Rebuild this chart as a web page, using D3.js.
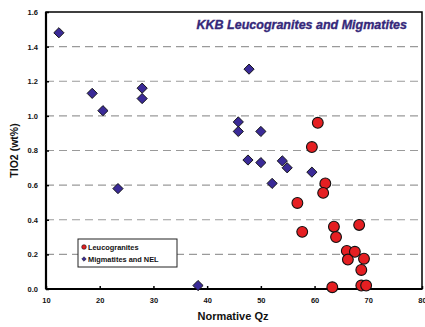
<!DOCTYPE html>
<html>
<head>
<meta charset="utf-8">
<script src="https://cdn.jsdelivr.net/npm/d3@7"></script>
<style>
  html, body { margin: 0; padding: 0; background: #fff; }
  svg { display: block; font-family: "Liberation Sans", Arial, sans-serif; }
</style>
</head>
<body>
<svg id="chart" width="425" height="327"></svg>
<script>
// Leucogranite samples: normative quartz vs TiO2 (wt%)
const leucoQz  = [60.6, 59.5, 62.0, 61.6, 56.8, 57.7, 63.6, 64.0, 66.0, 67.5, 68.3, 66.2, 69.2, 68.7, 63.3, 68.7, 69.6];
const leucoTi  = [0.96, 0.82, 0.61, 0.555, 0.497, 0.33, 0.36, 0.30, 0.22, 0.215, 0.37, 0.17, 0.175, 0.11, 0.01, 0.02, 0.02];

// Migmatites and NEL samples
const migQz = [12.4, 18.6, 20.6, 27.9, 27.9, 47.8, 45.8, 45.8, 50.0, 47.6, 50.0, 52.1, 54.0, 54.9, 59.5, 23.4, 38.3];
const migTi = [1.48, 1.13, 1.03, 1.16, 1.10, 1.27, 0.965, 0.91, 0.91, 0.745, 0.73, 0.61, 0.74, 0.70, 0.675, 0.58, 0.02];

const xTicks = [10, 20, 30, 40, 50, 60, 70, 80];
const yTicks = [0.0, 0.2, 0.4, 0.6, 0.8, 1.0, 1.2, 1.4, 1.6];
const gridValues = [0.2, 0.4, 0.6, 0.8, 1.0, 1.2, 1.4];

const legendLabels = ["Leucogranites", "Migmatites and NEL"];
const chartTitle = "KKB Leucogranites and Migmatites";

const svg = d3.select("#chart");
const m = { left: 46, right: 3, top: 12, bottom: 38 };
const W = 425, H = 327;

const x = d3.scaleLinear().domain([10, 80]).range([m.left, W - m.right]);
const y = d3.scaleLinear().domain([0, 1.6]).range([H - m.bottom, m.top]);

const RED = "#e51f22", BLUE = "#3a2a97";

// dashed horizontal grid
svg.append("g").selectAll("line").data(gridValues).join("line")
  .attr("x1", x(10)).attr("x2", x(80))
  .attr("y1", d => y(d)).attr("y2", d => y(d))
  .attr("stroke", "#9a9a9a").attr("stroke-width", 1.2)
  .attr("stroke-dasharray", "8,5");

// axes with inward ticks
const xAxis = d3.axisBottom(x).tickValues(xTicks).tickSize(-3).tickFormat(d3.format("d")).tickPadding(9);
const yAxis = d3.axisLeft(y).tickValues(yTicks).tickSize(-3).tickFormat(d3.format(".1f")).tickPadding(8);

const gx = svg.append("g").attr("transform", `translate(0,${y(0)})`).call(xAxis);
const gy = svg.append("g").attr("transform", `translate(${x(10)},0)`).call(yAxis);
[gx, gy].forEach(g => {
  g.select(".domain").remove();
  g.selectAll(".tick line").attr("stroke", "#000").attr("stroke-width", 1.5);
  g.selectAll(".tick text").attr("font-size", 7.5).attr("font-weight", "bold")
    .attr("font-family", "Liberation Sans, Arial, sans-serif").attr("fill", "#111");
});

// plot frame
svg.append("rect")
  .attr("x", x(10)).attr("y", y(1.6))
  .attr("width", x(80) - x(10)).attr("height", y(0) - y(1.6))
  .attr("fill", "none").attr("stroke", "#000").attr("stroke-width", 1.5);
svg.append("line").attr("x1", x(10)).attr("x2", x(80)).attr("y1", y(0)).attr("y2", y(0))
  .attr("stroke", "#000").attr("stroke-width", 2.2);
svg.append("line").attr("x1", x(10)).attr("x2", x(10)).attr("y1", y(0)).attr("y2", y(1.6))
  .attr("stroke", "#000").attr("stroke-width", 2.2);

// migmatite diamonds
const diamond = d3.symbol().type(d3.symbolSquare).size(52);
svg.append("g").selectAll("path").data(d3.zip(migQz, migTi)).join("path")
  .attr("d", diamond)
  .attr("transform", d => `translate(${x(d[0])},${y(d[1])}) rotate(45)`)
  .attr("fill", BLUE).attr("stroke", "#111").attr("stroke-width", 0.9);

// leucogranite circles
svg.append("g").selectAll("circle").data(d3.zip(leucoQz, leucoTi)).join("circle")
  .attr("cx", d => x(d[0])).attr("cy", d => y(d[1])).attr("r", 5.4)
  .attr("fill", RED).attr("stroke", "#111").attr("stroke-width", 1.1);

// title
svg.append("text").attr("x", 407).attr("y", 29).attr("text-anchor", "end")
  .attr("font-size", 12.5).attr("font-weight", "bold").attr("font-style", "italic")
  .attr("fill", "#35287a").attr("stroke", "#35287a").attr("stroke-width", 0.35)
  .text(chartTitle);

// axis titles
svg.append("text").attr("x", 233).attr("y", 320).attr("text-anchor", "middle")
  .attr("font-size", 11).attr("font-weight", "bold").attr("fill", "#111").text("Normative Qz");
svg.append("text").attr("transform", `translate(18,${(y(0) + y(1.6)) / 2}) rotate(-90)`)
  .attr("text-anchor", "middle").attr("font-size", 10.5).attr("font-weight", "bold")
  .attr("fill", "#111").text("TIO2 (wt%)");

// legend
const lg = svg.append("g");
lg.append("rect").attr("x", 78).attr("y", 239).attr("width", 99).attr("height", 28)
  .attr("fill", "#fff").attr("stroke", "#222").attr("stroke-width", 1);
const legendY = [247, 259];
lg.append("circle").attr("cx", 84).attr("cy", legendY[0]).attr("r", 2.3)
  .attr("fill", RED).attr("stroke", "#111").attr("stroke-width", 0.6);
lg.append("path").attr("d", d3.symbol().type(d3.symbolSquare).size(10))
  .attr("transform", `translate(84,${legendY[1]}) rotate(45)`)
  .attr("fill", BLUE).attr("stroke", "#111").attr("stroke-width", 0.5);
lg.selectAll("text").data(legendLabels).join("text")
  .attr("x", 88).attr("y", (d, i) => legendY[i] + 2.6)
  .attr("font-size", 7.4).attr("font-weight", "bold").attr("fill", "#111").text(d => d);
</script>
</body>
</html>
